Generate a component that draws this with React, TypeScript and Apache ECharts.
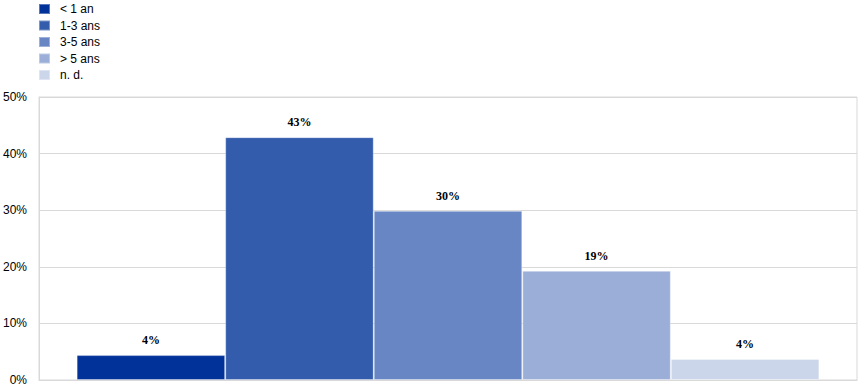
import React, { useEffect, useRef } from "react";
import * as echarts from "echarts";

const seriesNames = ["< 1 an", "1-3 ans", "3-5 ans", "> 5 ans", "n. d."];
const values = [4.4, 42.9, 29.9, 19.3, 3.7];
const colors = ["#003299", "#335CAD", "#6786C3", "#9AAED7", "#CCD6EB"];
const yTicks = { min: 0, max: 50, interval: 10 };

export default function App() {
  const ref = useRef<HTMLDivElement>(null);
  useEffect(() => {
    if (!ref.current) return;
    const chart = echarts.init(ref.current, null, { renderer: "svg" });
    chart.setOption({
      animation: false,
      legend: {
        orient: "vertical",
        left: 38,
        top: 3,
        padding: 0,
        itemWidth: 11,
        itemHeight: 10,
        itemGap: 4.5,
        icon: "rect",
        data: seriesNames,
        textStyle: {
          fontFamily: "Liberation Sans, Arial, sans-serif",
          fontSize: 12,
          color: "#000",
          lineHeight: 12,
          padding: [0, 0, 0, 5],
        },
      },
      grid: {
        left: 39,
        right: 11,
        top: 97,
        bottom: 10,
        show: true,
        borderColor: "#d9d9d9",
        borderWidth: 1,
      },
      xAxis: {
        type: "category",
        data: [""],
        axisLine: { show: true, lineStyle: { color: "#d9d9d9" } },
        axisTick: { show: false },
        axisLabel: { show: false },
      },
      yAxis: {
        type: "value",
        min: yTicks.min,
        max: yTicks.max,
        interval: yTicks.interval,
        axisLine: { show: true, lineStyle: { color: "#d9d9d9" } },
        axisTick: { show: false },
        splitLine: { lineStyle: { color: "#d9d9d9" } },
        axisLabel: {
          formatter: "{value}%",
          fontFamily: "Liberation Sans, Arial, sans-serif",
          fontSize: 12,
          color: "#000",
          margin: 12,
        },
      },
      series: seriesNames.map((name, i) => ({
        name,
        type: "bar",
        data: [values[i]],
        barGap: "0%",
        barCategoryGap: "9.2%",
        itemStyle: {
          color: colors[i],
          borderColor: "rgba(255,255,255,0.35)",
          borderWidth: 1,
        },
        label: {
          show: true,
          position: "top",
          distance: 9,
          formatter: (p: any) => Math.round(p.value) + "%",
          fontFamily: "Liberation Serif, Times New Roman, serif",
          fontWeight: "bold",
          fontSize: 12,
          color: "#000",
        },
      })),
    });
    return () => chart.dispose();
  }, []);
  return (
    <div
      ref={ref}
      style={{ position: "absolute", left: 0, top: 0, width: 868, height: 390 }}
    />
  );
}
